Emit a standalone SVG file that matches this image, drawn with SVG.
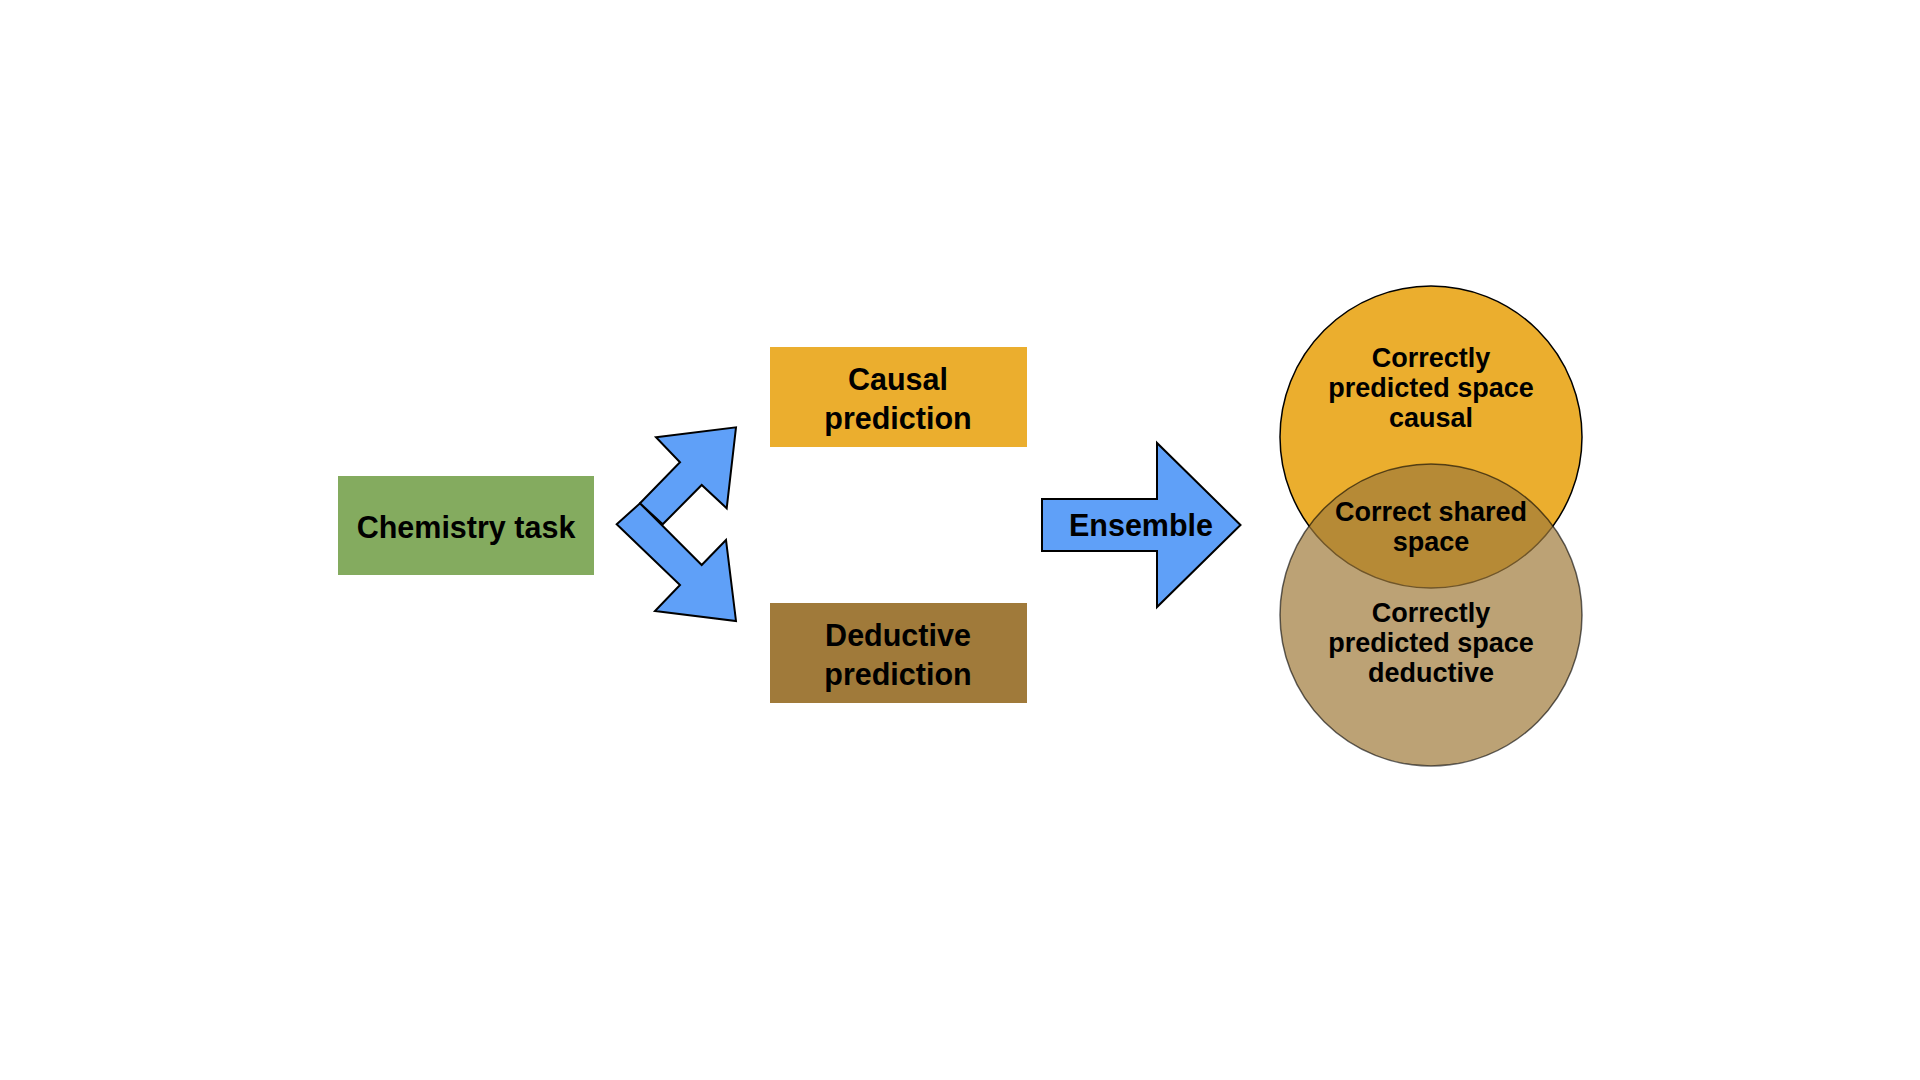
<svg xmlns="http://www.w3.org/2000/svg" width="1920" height="1080" viewBox="0 0 1920 1080">
<style>
.t{font-family:"Liberation Sans",Arial,sans-serif;font-weight:bold;fill:#000;text-anchor:middle}
.big{font-size:30.5px}
.sm{font-size:27px}
.arr{fill:#5FA0F8;stroke:#000;stroke-width:2;stroke-linejoin:miter}
</style>
<rect width="1920" height="1080" fill="#fff"/>
<g id="chemistry-task">
<rect x="338" y="476" width="256" height="99" fill="#84AB5F"/>
<text class="t big" x="466" y="538">Chemistry task</text>
</g>
<g id="causal-prediction">
<rect x="770" y="347" width="257" height="100" fill="#EBAE2E"/>
<text class="t big" x="898" y="390">Causal</text>
<text class="t big" x="898" y="429">prediction</text>
</g>
<g id="deductive-prediction">
<rect x="770" y="603" width="257" height="100" fill="#A07A3A"/>
<text class="t big" x="898" y="646">Deductive</text>
<text class="t big" x="898" y="685">prediction</text>
</g>
<g id="connectors">
<polygon class="arr" points="616.7,524.3 640,503.3 701.7,565 726,540 736,621 655,611 680,585"/>
<polygon class="arr" points="640,503.3 680,462.3 656,437.3 736,427.3 726.7,508.3 701.7,485 662.7,524.3"/>
<g id="ensemble">
<polygon class="arr" points="1042,499 1157,499 1157,443 1240.5,525 1157,607 1157,551 1042,551"/>
<text class="t big" x="1141" y="536">Ensemble</text>
</g>
</g>
<g id="venn">
<g id="causal-space">
<circle cx="1431" cy="437" r="151" fill="#EBAE2E" stroke="#000" stroke-width="1.5"/>
</g>
<g id="deductive-space">
<circle cx="1431" cy="615" r="151" fill="#A07A3A" fill-opacity="0.7" stroke="#000" stroke-opacity="0.6" stroke-width="1.5"/>
</g>
<text class="t sm" x="1431" y="367">Correctly</text>
<text class="t sm" x="1431" y="397">predicted space</text>
<text class="t sm" x="1431" y="427">causal</text>
<text class="t sm" x="1431" y="521">Correct shared</text>
<text class="t sm" x="1431" y="551">space</text>
<text class="t sm" x="1431" y="622">Correctly</text>
<text class="t sm" x="1431" y="652">predicted space</text>
<text class="t sm" x="1431" y="682">deductive</text>
</g>
</svg>
